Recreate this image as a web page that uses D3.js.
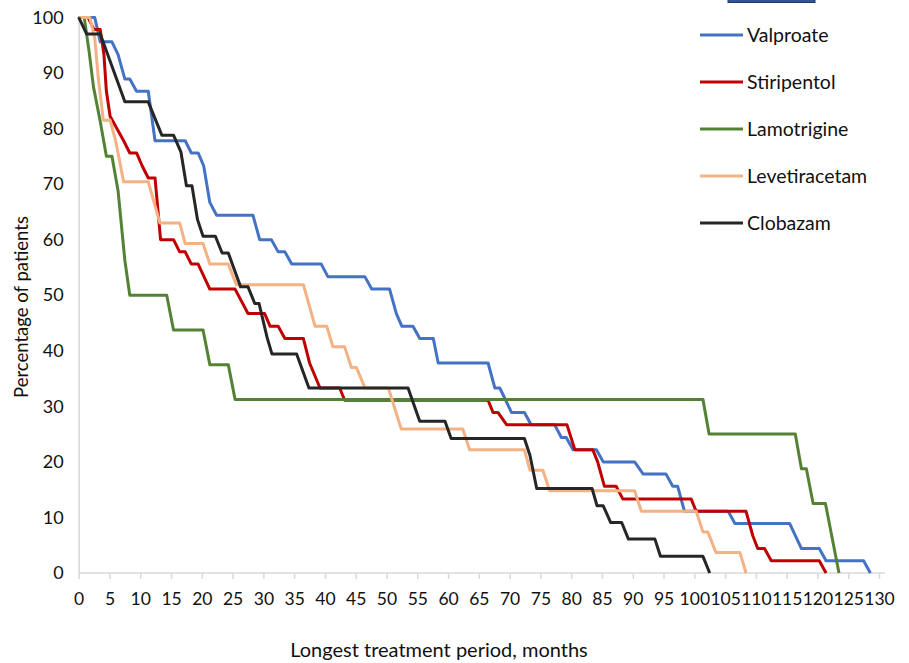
<!DOCTYPE html>
<html>
<head>
<meta charset="utf-8">
<script src="https://cdn.jsdelivr.net/npm/d3@7/dist/d3.min.js"></script>
<style>
  html, body { margin: 0; padding: 0; background: #ffffff; }
  svg { display: block; font-family: Lato, "Noto Sans", sans-serif; }
</style>
</head>
<body>
<svg id="chart" width="909" height="663"></svg>
<script>
// ---- Data: [month, percentage of patients] ----
const valproate = [[0,100],[2.6,100],[3.5,95.6],[5.4,95.6],[6.4,93.3],[7.5,88.9],[8.3,88.9],[9.4,86.7],[11.3,86.7],[12.4,77.8],[17.3,77.8],[18.3,75.6],[19.4,75.6],[20.3,73.3],[21.3,66.7],[22.4,64.4],[28.3,64.4],[29.4,60],[31.3,60],[32.4,57.8],[33.5,57.8],[34.6,55.6],[39.4,55.6],[40.5,53.3],[46.5,53.3],[47.6,51.1],[50.5,51.1],[51.6,46.7],[52.5,44.4],[54.3,44.4],[55.4,42.2],[57.6,42.2],[58.4,37.8],[66.5,37.8],[67.6,33.3],[68.4,33.3],[70.3,28.9],[72.4,28.9],[73.5,26.7],[77.3,26.7],[78.4,24.4],[79.2,24.4],[80.3,22.2],[84.1,22.2],[85.2,20],[90.3,20],[91.7,17.8],[95.4,17.8],[96.5,15.6],[97.3,15.6],[98.4,11.1],[105.5,11.1],[106.6,8.9],[115.5,8.9],[117.4,4.4],[120.3,4.4],[121.4,2.2],[127.5,2.2],[128.6,0]];
const stiripentol = [[0,100],[1.5,100],[2.5,97.8],[3.5,97.8],[4.1,93.3],[4.5,86.7],[5.1,82.2],[6.2,80],[7.3,77.8],[8.3,75.6],[9.4,75.6],[10.3,73.3],[11.3,71.1],[12.4,71.1],[13.3,60],[15.4,60],[16.4,57.8],[17.3,57.8],[18.3,55.6],[19.4,55.6],[21.3,51.1],[25.4,51.1],[27.5,46.7],[30.2,46.7],[31.1,44.4],[32.4,44.4],[33.5,42.2],[36.5,42.2],[37.5,37.8],[39.2,33.3],[42.4,33.3],[43.2,31.1],[66.5,31.1],[67.3,28.9],[68.1,28.9],[69.5,26.7],[79.3,26.7],[80.6,22.2],[83.5,22.2],[84.3,20],[85.4,15.6],[87.3,15.6],[88.4,13.3],[99.5,13.3],[100.3,11.1],[108.4,11.1],[109.5,6.7],[110.3,4.4],[111.4,4.4],[112.5,2.2],[120.3,2.2],[121.4,0]];
const lamotrigine = [[0,100],[0.9,100],[1.7,93.75],[2.4,87.5],[3.5,81.25],[4.5,75],[5.4,75],[6.4,68.75],[7.5,56.25],[8.3,50],[14.3,50],[15.4,43.75],[20.2,43.75],[21.3,37.5],[24.3,37.5],[25.4,31.25],[101.4,31.25],[102.4,25],[116.4,25],[117.4,18.75],[118.2,18.75],[119.3,12.5],[121.3,12.5],[123.5,0]];
const levetiracetam = [[0,100],[1.8,100],[2.6,96.3],[3.2,88.9],[4.0,81.5],[5.1,81.5],[6.0,77.8],[7.3,70.4],[11.3,70.4],[13.2,63],[16.4,63],[17.3,59.3],[20.2,59.3],[21.3,55.6],[24.3,55.6],[25.6,51.9],[36.5,51.9],[38.4,44.4],[40.3,44.4],[41.3,40.7],[43.2,40.7],[44.3,37],[45.1,37],[46.5,33.3],[50.3,33.3],[52.4,25.9],[62.4,25.9],[63.5,22.2],[72.4,22.2],[73.3,18.5],[75.4,18.5],[76.5,14.8],[90.3,14.8],[91.4,11.1],[100.3,11.1],[101.4,7.4],[102.2,7.4],[103.5,3.7],[107.4,3.7],[108.4,0]];
const clobazam = [[0,100],[1.3,97],[3.5,97],[7.5,84.8],[11.3,84.8],[13.5,78.8],[15.4,78.8],[16.6,75.8],[17.5,69.7],[18.4,69.7],[19.3,63.6],[20.2,60.6],[22.2,60.6],[23.3,57.6],[24.3,57.6],[26.3,51.5],[27.5,51.5],[28.6,48.5],[29.3,48.5],[30.6,42.4],[31.4,39.4],[35.4,39.4],[37.4,33.3],[53.5,33.3],[55.4,27.3],[59.5,27.3],[60.5,24.2],[72.4,24.2],[73.3,21.2],[74.4,15.2],[83.4,15.2],[84.2,12.1],[85.2,12.1],[86.4,9.1],[88.2,9.1],[89.3,6.1],[93.6,6.1],[94.5,3],[101.4,3],[102.5,0]];

const seriesNames = ["Valproate", "Stiripentol", "Lamotrigine", "Levetiracetam", "Clobazam"];
const seriesValues = [valproate, stiripentol, lamotrigine, levetiracetam, clobazam];
const seriesColors = ["#4472C4", "#C00000", "#548235", "#F4B183", "#262626"];
const xTicks = d3.range(0, 131, 5);
const yTicks = d3.range(0, 101, 10);
const xTitle = "Longest treatment period, months";
const yTitle = "Percentage of patients";

// ---- Layout ----
const svg = d3.select("#chart");
const x = d3.scaleLinear().domain([0, 130]).range([78.7, 879]);
const y = d3.scaleLinear().domain([0, 100]).range([573, 17.4]);

// x axis
const xAxis = svg.append("g").attr("transform", `translate(0,${y(0)})`)
  .call(d3.axisBottom(x).tickValues(xTicks).tickSize(6).tickPadding(14).tickSizeOuter(0));
xAxis.select(".domain").attr("stroke", "#D9D9D9").attr("stroke-width", 1.5)
  .attr("d", `M${x(0)},0H${x(130) + 6}`);
xAxis.selectAll(".tick line").attr("stroke", "#D9D9D9").attr("stroke-width", 1.5);
xAxis.selectAll(".tick text").attr("fill", "#111").style("font-size", "17.5px")
  .style("font-family", "Lato, sans-serif");

// y axis
const yAxis = svg.append("g").attr("transform", `translate(${x(0)},0)`)
  .call(d3.axisLeft(y).tickValues(yTicks).tickSize(0).tickPadding(15).tickSizeOuter(0));
yAxis.select(".domain").attr("stroke", "#D9D9D9").attr("stroke-width", 1.5);
yAxis.selectAll(".tick text").attr("fill", "#111").style("font-size", "18px")
  .style("font-family", "Lato, sans-serif");

// lines
const line = d3.line().x(d => x(d[0])).y(d => y(d[1]));
seriesValues.forEach((vals, i) => {
  svg.append("path").datum(vals)
    .attr("fill", "none")
    .attr("stroke", seriesColors[i])
    .attr("stroke-width", 3)
    .attr("stroke-linejoin", "round")
    .attr("stroke-linecap", "butt")
    .attr("d", line);
});

// legend
svg.append("rect").attr("x", 728).attr("y", -2).attr("width", 87).attr("height", 4.5)
  .attr("fill", "#2F5597").attr("stroke", "#1F3864").attr("stroke-width", 1);
const legend = svg.append("g");
seriesNames.forEach((name, i) => {
  const cy = 35 + i * 47;
  legend.append("line").attr("x1", 700).attr("x2", 743).attr("y1", cy).attr("y2", cy)
    .attr("stroke", seriesColors[i]).attr("stroke-width", 3);
  legend.append("text").attr("x", 747).attr("y", cy).attr("dy", "0.35em")
    .attr("fill", "#111").style("font-size", "19.5px").text(name);
});

// axis titles
svg.append("text").attr("x", 439).attr("y", 657).attr("text-anchor", "middle")
  .attr("fill", "#111").style("font-size", "20px").text(xTitle);
svg.append("text").attr("transform", "translate(28,307) rotate(-90)").attr("text-anchor", "middle")
  .attr("fill", "#111").style("font-size", "18.5px").text(yTitle);
</script>
</body>
</html>
